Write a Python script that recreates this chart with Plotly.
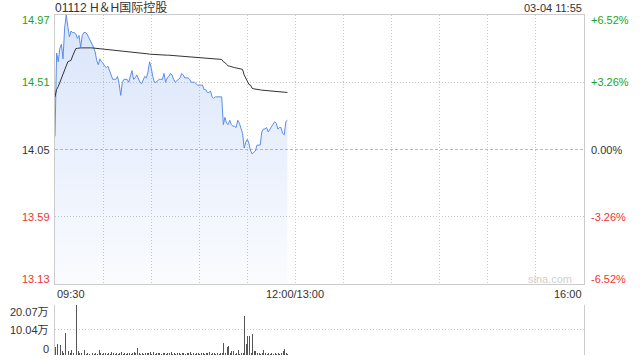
import plotly.graph_objects as go

# ---------------- data ----------------
stock_title = "01112 H＆H国际控股"
stamp_text = "03-04 11:55"
prev_close = 14.05
price_range = [13.13, 14.97]
price_ticks = [14.97, 14.51, 14.05, 13.59, 13.13]
price_tick_text = ["14.97", "14.51", "14.05", "13.59", "13.13"]
pct_tick_text = ["+6.52%", "+3.26%", "0.00%", "-3.26%", "-6.52%"]
vol_ticks = [20.07, 10.04, 0]
vol_tick_text = ["20.07万", "10.04万", "0"]
session_minutes = 330          # 09:30-12:00 + 13:00-16:00
time_labels = ["09:30", "12:00/13:00", "16:00"]
time_label_minutes = [0, 150, 330]

minutes = list(range(146))     # 09:30 ... 11:55

price = [
    14.14, 14.71, 14.65, 14.74, 14.77, 14.67, 14.88, 14.97, 14.89, 14.82,
    14.86, 14.85, 14.85, 14.84, 14.81, 14.83, 14.75, 14.83, 14.85, 14.85,
    14.84, 14.82, 14.79, 14.77, 14.75, 14.72, 14.66, 14.63, 14.67, 14.65,
    14.64, 14.62, 14.61, 14.62, 14.59, 14.55, 14.53, 14.53, 14.53, 14.55,
    14.50, 14.42, 14.51, 14.53, 14.53, 14.53, 14.51, 14.55, 14.59, 14.53,
    14.54, 14.56, 14.53, 14.51, 14.50, 14.53, 14.55, 14.54, 14.58, 14.65,
    14.61, 14.55, 14.51, 14.51, 14.52, 14.53, 14.53, 14.53, 14.57, 14.51,
    14.54, 14.55, 14.57, 14.56, 14.53, 14.51, 14.52, 14.53, 14.54, 14.57,
    14.56, 14.54, 14.54, 14.54, 14.53, 14.51, 14.51, 14.51, 14.50, 14.49,
    14.49, 14.49, 14.49, 14.46, 14.46, 14.44, 14.44, 14.45, 14.41, 14.40,
    14.41, 14.41, 14.41, 14.41, 14.41, 14.22, 14.27, 14.23, 14.22, 14.25,
    14.22, 14.21, 14.21, 14.20, 14.25, 14.23, 14.20, 14.16, 14.06, 14.10,
    14.12, 14.09, 14.04, 14.02, 14.03, 14.04, 14.08, 14.08, 14.08, 14.17,
    14.19, 14.19, 14.20, 14.17, 14.19, 14.21, 14.22, 14.24, 14.23, 14.19,
    14.20, 14.20, 14.16, 14.15, 14.24, 14.25,
]

avg_price = [
    14.41, 14.46, 14.48, 14.51, 14.54, 14.56, 14.60, 14.62, 14.65, 14.655,
    14.66, 14.69, 14.72, 14.74, 14.742, 14.745, 14.745, 14.745, 14.746, 14.746,
    14.746, 14.746, 14.745, 14.745, 14.744, 14.742, 14.740, 14.738, 14.736, 14.735,
    14.734, 14.733, 14.732, 14.731, 14.730, 14.729, 14.728, 14.727, 14.727, 14.726,
    14.725, 14.724, 14.723, 14.723, 14.722, 14.721, 14.720, 14.720, 14.719, 14.718,
    14.716, 14.714, 14.712, 14.710, 14.709, 14.708, 14.706, 14.705, 14.704, 14.702,
    14.701, 14.700, 14.699, 14.699, 14.698, 14.698, 14.697, 14.697, 14.696, 14.696,
    14.695, 14.695, 14.694, 14.694, 14.693, 14.693, 14.692, 14.692, 14.691, 14.690,
    14.690, 14.689, 14.688, 14.687, 14.686, 14.685, 14.684, 14.683, 14.682, 14.681,
    14.680, 14.679, 14.678, 14.677, 14.676, 14.675, 14.674, 14.673, 14.672, 14.671,
    14.670, 14.669, 14.668, 14.667, 14.666, 14.650, 14.645, 14.632, 14.622, 14.620,
    14.615, 14.612, 14.610, 14.608, 14.605, 14.603, 14.601, 14.598, 14.560, 14.540,
    14.515, 14.495, 14.490, 14.468, 14.465, 14.462, 14.460, 14.459, 14.458, 14.456,
    14.455, 14.454, 14.453, 14.452, 14.451, 14.450, 14.449, 14.448, 14.447, 14.446,
    14.445, 14.444, 14.443, 14.442, 14.441, 14.440,
]

volume_wan = [
    3.3, 4.4, 0.8, 4.1, 1.7, 0.8, 8.7, 2.0, 1.5, 0.9,
    2.0, 1.0, 0.6, 20.07, 1.6, 1.0, 0.7, 1.2, 2.0, 0.6,
    0.8, 0.5, 0.7, 0.9, 0.6, 0.8, 0.5, 2.0, 0.9, 0.6,
    0.7, 1.0, 0.5, 0.8, 0.6, 1.2, 0.7, 0.5, 0.9, 0.6,
    0.8, 1.3, 0.6, 1.0, 0.5, 0.7, 0.9, 0.6, 0.8, 1.2,
    0.7, 2.7, 0.8, 0.6, 0.9, 0.5, 1.0, 0.7, 0.8, 1.3,
    0.6, 1.1, 0.5, 0.8, 0.7, 0.9, 0.6, 1.0, 0.8, 0.5,
    0.9, 0.7, 1.1, 0.6, 0.8, 0.5, 0.9, 0.7, 0.6, 1.0,
    0.8, 0.5, 0.9, 0.7, 1.1, 0.6, 0.8, 0.5, 0.9, 0.7,
    0.6, 1.0, 0.8, 0.5, 0.7, 0.9, 1.1, 0.6, 0.8, 0.7,
    0.5, 0.9, 0.6, 0.8, 1.0, 4.9, 1.0, 3.3, 3.6, 0.7,
    1.5, 1.5, 0.6, 0.8, 2.0, 0.6, 0.9, 0.7, 15.7, 4.4,
    7.7, 7.7, 0.8, 8.4, 1.5, 1.7, 0.8, 1.0, 0.6, 0.9,
    2.0, 0.7, 0.5, 0.8, 0.6, 0.9, 0.5, 0.7, 0.6, 0.8,
    0.5, 0.9, 1.5, 2.3, 1.0, 0.6,
]

# ---------------- style ----------------
FONT = "Arial, 'Liberation Sans', 'Noto Sans CJK SC', sans-serif"
TXT = "#333333"
GREEN = "#1aa31a"
RED = "#ee3333"
BORDER = "#cccccc"
GRID = "#c8c8c8"
LINE_BLUE = "#5a8ee8"

W, H = 640, 360
X0, X1 = 55 / W, 584 / W
P_DOM = [1 - 284 / H, 1 - 15 / H]
V_DOM = [1 - 355 / H, 1 - 305 / H]

fig = go.Figure()

fig.add_trace(go.Scatter(
    x=minutes, y=price, mode="lines",
    line=dict(color=LINE_BLUE, width=1),
    fill="tozeroy",
    fillgradient=dict(type="vertical",
                      colorscale=[[0, "rgba(90,140,235,0.03)"], [1, "rgba(90,140,235,0.23)"]],
                      start=price_range[0], stop=price_range[1]),
    xaxis="x", yaxis="y", hoverinfo="skip", showlegend=False,
))
fig.add_trace(go.Scatter(
    x=minutes, y=avg_price, mode="lines",
    line=dict(color="#333333", width=1),
    xaxis="x", yaxis="y", hoverinfo="skip", showlegend=False,
))
fig.add_trace(go.Bar(
    x=minutes, y=volume_wan, width=0.6,
    marker=dict(color="#555555", line=dict(width=0)),
    xaxis="x2", yaxis="y2", hoverinfo="skip", showlegend=False,
))

grid_minutes = [m for m in range(30, session_minutes, 30)]

fig.update_layout(
    width=W, height=H,
    margin=dict(l=0, r=0, t=0, b=0),
    paper_bgcolor="white", plot_bgcolor="white",
    font=dict(family=FONT, size=11, color=TXT),
    bargap=0,
    hovermode=False,
    xaxis=dict(domain=[X0, X1], range=[0, session_minutes], anchor="y",
               tickvals=grid_minutes, showticklabels=False, ticks="",
               showgrid=True, gridcolor=GRID, griddash="1px,2px", gridwidth=1,
               showline=True, mirror=True, linecolor=BORDER, linewidth=1,
               zeroline=False, fixedrange=True),
    yaxis=dict(domain=P_DOM, range=price_range, anchor="x",
               tickvals=[price_ticks[1], price_ticks[3]], showticklabels=False, ticks="",
               showgrid=True, gridcolor=GRID, griddash="1px,2px", gridwidth=1,
               showline=True, mirror=True, linecolor=BORDER, linewidth=1,
               zeroline=False, fixedrange=True),
    xaxis2=dict(domain=[X0, X1], range=[-0.5, session_minutes], anchor="y2",
                showticklabels=False, ticks="", showgrid=False,
                showline=False, zeroline=False, fixedrange=True),
    yaxis2=dict(domain=V_DOM, range=[0, vol_ticks[0]], anchor="x2",
                tickvals=vol_ticks, showticklabels=False, ticks="",
                showgrid=True, gridcolor=GRID, griddash="1px,2px", gridwidth=1,
                showline=True, mirror=True, linecolor=BORDER, linewidth=1,
                zeroline=False, fixedrange=True),
    showlegend=False,
)

# previous close line (dashed)
fig.add_shape(type="line", xref="x", yref="y", x0=0, x1=session_minutes,
              y0=prev_close, y1=prev_close,
              line=dict(color="#bbbbbb", width=1, dash="3px,2px"), layer="below")

ann = []
# left price labels & right percent labels
colors = [GREEN, GREEN, TXT, RED, RED]
shifts = [-5.5, 0, 0, 0, 5.5]
for v, t, p, c, s in zip(price_ticks, price_tick_text, pct_tick_text, colors, shifts):
    ann.append(dict(x=X0, xref="paper", y=v, yref="y", text=t, showarrow=False,
                    xanchor="right", yanchor="middle", xshift=-3, yshift=s,
                    font=dict(color=c, size=11, family=FONT)))
    ann.append(dict(x=X1, xref="paper", y=v, yref="y", text=p, showarrow=False,
                    xanchor="left", yanchor="middle", xshift=5, yshift=s,
                    font=dict(color=c, size=11, family=FONT)))

# volume labels
vshifts = [-6.5, 0, 6.5]
for v, t, s in zip(vol_ticks, vol_tick_text, vshifts):
    ann.append(dict(x=X0, xref="paper", y=v, yref="y2", text=t, showarrow=False,
                    xanchor="right", yanchor="middle", xshift=-4, yshift=s,
                    font=dict(color=TXT, size=11, family=FONT)))

# time labels
anchors = ["left", "center", "right"]
for m, t, a in zip(time_label_minutes, time_labels, anchors):
    ann.append(dict(x=m, xref="x", y=1 - 293.5 / H, yref="paper", text=t,
                    showarrow=False, xanchor=a, yanchor="middle",
                    font=dict(color=TXT, size=11, family=FONT)))

# title & timestamp
ann.append(dict(x=X0, xref="paper", y=1 - 7.5 / H, yref="paper", text=stock_title,
                showarrow=False, xanchor="left", yanchor="middle", xshift=-2,
                font=dict(color=TXT, size=12, family=FONT)))
ann.append(dict(x=X1, xref="paper", y=1 - 7.5 / H, yref="paper", text=stamp_text,
                showarrow=False, xanchor="right", yanchor="middle",
                font=dict(color=TXT, size=11, family=FONT)))
# watermark
ann.append(dict(x=X1, xref="paper", y=price_range[0], yref="y", text="sina.com",
                showarrow=False, xanchor="right", yanchor="middle", xshift=-10, yshift=5,
                font=dict(color="#d0d0d0", size=11, family=FONT)))

fig.update_layout(annotations=ann)

fig.write_html("out.html", config={"displayModeBar": False, "staticPlot": True})
